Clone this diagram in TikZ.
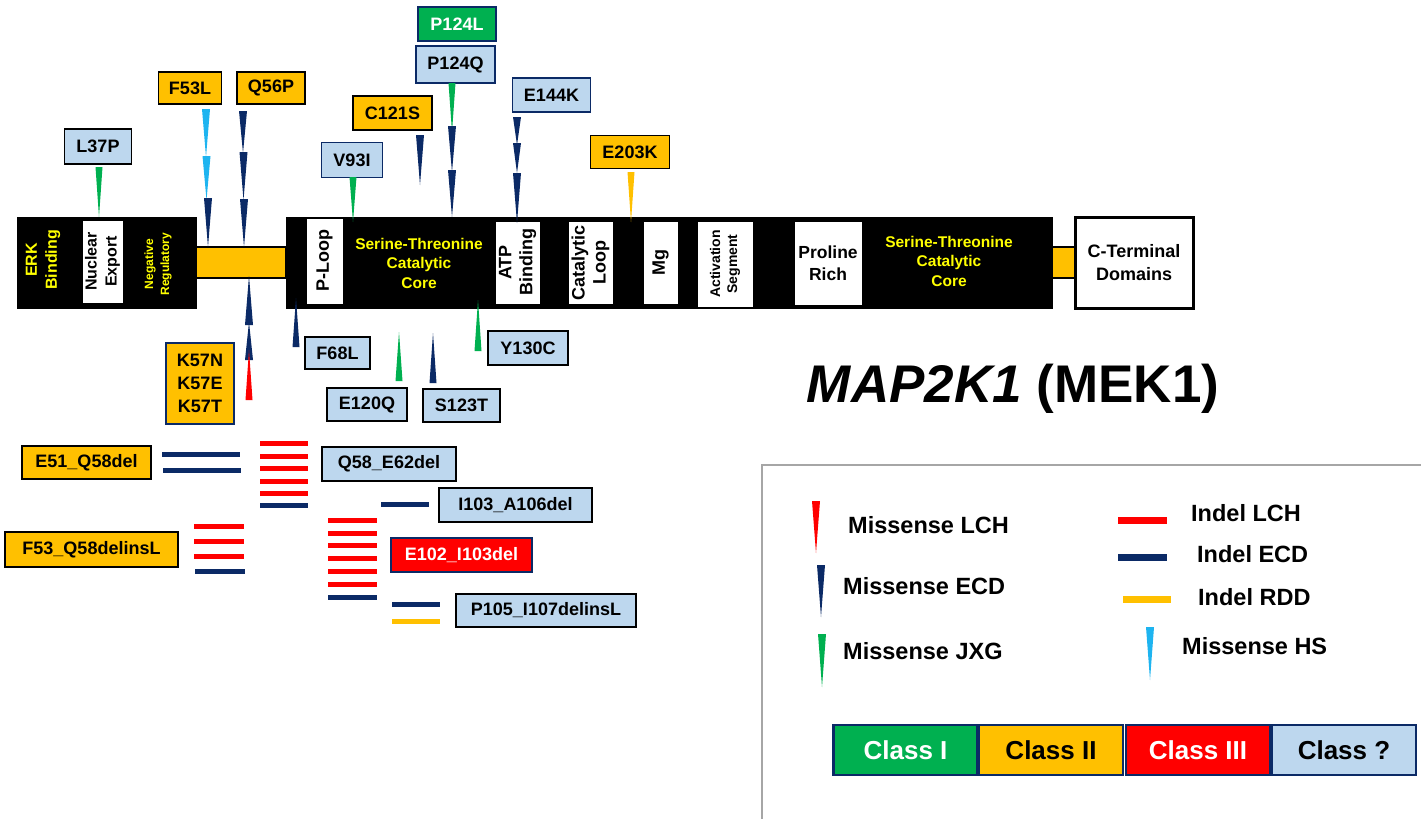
\documentclass[tikz,border=0pt]{standalone}
\usepackage{fontspec}
\setmainfont{Liberation Sans}
\definecolor{org}{HTML}{FFC000}
\definecolor{lb}{HTML}{BDD7EE}
\definecolor{grn}{HTML}{00B050}
\definecolor{rd}{HTML}{FF0000}
\definecolor{nv}{HTML}{0B2A66}
\definecolor{sky}{HTML}{1EB4F0}
\definecolor{yel}{HTML}{FFFF00}
\definecolor{lgray}{HTML}{A6A6A6}
% down spike: color, x, ytop(base), ybottom(tip), width
\newcommand{\spd}[5]{\fill[#1] ({#2-#5/2},#3) -- ({#2+#5/2},#3) -- (#2,#4) -- cycle;}
% up spike: color, x, ytip, ybase, width
\newcommand{\spu}[5]{\fill[#1] ({#2-#5/2},#4) -- ({#2+#5/2},#4) -- (#2,#3) -- cycle;}
\begin{document}
\begin{tikzpicture}[x=1pt,y=-1pt,
  lab/.style={draw=black, line width=1.4pt, inner sep=0pt, align=center,
    font=\bfseries\fontsize{18}{23}\selectfont},
  obox/.style={lab, fill=org},
  bbox/.style={lab, fill=lb},
  wbox/.style={draw=black, line width=0.8pt, fill=white, inner sep=0pt, align=center,
    font=\bfseries\fontsize{18}{21}\selectfont},
  blk/.style={fill=black, draw=black, inner sep=0pt},
  connbar/.style={fill=org, draw=black, line width=2pt, inner sep=0pt},
  ytxt/.style={text=yel, inner sep=0pt, align=center, font=\bfseries\fontsize{15.5}{19.5}\selectfont},
  ind/.style={line width=5pt},
  legtxt/.style={anchor=west, inner sep=0pt, font=\bfseries\fontsize{23.5}{28}\selectfont},
  legline/.style={line width=7pt},
  cls/.style={draw=nv, line width=2.5pt, inner sep=0pt, minimum width=144, minimum height=50,
    font=\bfseries\fontsize{26}{30}\selectfont}
]
\useasboundingbox (0,0) rectangle (1421,819);
\fill[white] (0,0) rectangle (1421,819);

% ---- protein bar ----
\node[connbar, minimum width=90, minimum height=31] (c1) at (241,262.5) {};
\node[connbar, minimum width=26, minimum height=31] (c2) at (1063,262.5) {};
\node[blk, minimum width=179, minimum height=91] (b1) at (106.5,262.5) {};
\node[blk, minimum width=766, minimum height=91] (b2) at (669,262.5) {};

\node[ytxt, rotate=90, font=\bfseries\fontsize{16}{20}\selectfont] (erk) at (43,260) {ERK\\Binding};
\node[wbox, rotate=90, minimum width=83, minimum height=41, font=\bfseries\fontsize{16}{20}\selectfont] (ne) at (102.5,261.5) {Nuclear\\Export};
\node[ytxt, rotate=90, font=\bfseries\fontsize{12}{16}\selectfont] (neg) at (158,264) {Negative\\Regulatory};

\node[wbox, rotate=90, minimum width=86, minimum height=37] (ploop) at (324.5,261) {P-Loop};
\node[ytxt] (stc1) at (419,263) {Serine-Threonine\\Catalytic\\Core};
\node[wbox, rotate=90, minimum width=83, minimum height=45] (atp) at (517.5,262.5) {ATP\\Binding};
\node[wbox, rotate=90, minimum width=83, minimum height=45] (cat) at (590.5,262.5) {Catalytic\\Loop};
\node[wbox, rotate=90, minimum width=83, minimum height=35] (mg) at (660.5,262.5) {Mg};
\node[wbox, rotate=90, minimum width=86, minimum height=56, font=\bfseries\fontsize{14}{17}\selectfont] (act) at (725,264) {Activation\\Segment};
\node[wbox, minimum width=68, minimum height=84, font=\bfseries\fontsize{17.5}{22}\selectfont] (pro) at (828,263) {Proline\\Rich};
\node[ytxt] (stc2) at (949,261) {Serine-Threonine\\Catalytic\\Core};
\node[draw=black, line width=3pt, fill=white, inner sep=0pt, minimum width=118, minimum height=91,
  align=center, font=\bfseries\fontsize{18}{23}\selectfont] (cterm) at (1134,262.5) {C-Terminal\\Domains};

% ---- top labels ----
\node[bbox, minimum width=67, minimum height=35] (l37p) at (98,146.5) {L37P};
\node[obox, minimum width=63, minimum height=32] (f53l) at (190,88) {F53L};
\node[obox, minimum width=68, minimum height=32] (q56p) at (271,88) {Q56P};
\node[obox, minimum width=79, minimum height=34] (c121s) at (392.5,113) {C121S};
\node[bbox, draw=nv, minimum width=61, minimum height=35] (v93i) at (352,160) {V93I};
\node[lab, fill=grn, draw=nv, text=white, minimum width=78, minimum height=34] (p124l) at (457,24) {P124L};
\node[bbox, draw=nv, minimum width=79, minimum height=37] (p124q) at (455.5,64.5) {P124Q};
\node[bbox, draw=nv, minimum width=78, minimum height=34] (e144k) at (551.5,95) {E144K};
\node[obox, minimum width=79, minimum height=33] (e203k) at (630,152) {E203K};

% ---- top spikes ----
\spd{grn}{99}{167}{217}{7}
\spd{sky}{206}{109}{157}{8}
\spd{sky}{206.5}{156}{200}{8}
\spd{nv}{208}{198}{247}{8}
\spd{nv}{243}{111}{153}{8}
\spd{nv}{243.5}{152}{200}{8}
\spd{nv}{244}{199}{247}{8}
\spd{grn}{353}{177}{222}{7}
\spd{nv}{420}{135}{185}{8}
\spd{grn}{452}{83}{132}{7}
\spd{nv}{452}{126}{172}{8}
\spd{nv}{452}{170}{217}{8}
\spd{nv}{517}{117}{145}{8}
\spd{nv}{517}{143}{173}{8}
\spd{nv}{517}{173}{223}{8}
\spd{org}{631}{172}{222}{7}

% ---- bottom spikes ----
\spu{nv}{249}{276}{325}{8}
\spu{nv}{249}{322}{360}{8}
\spu{rd}{249}{350}{400}{7}
\spu{nv}{296}{298}{347}{7}
\spu{grn}{399}{332}{381}{7}
\spu{nv}{433}{333}{383}{7}
\spu{grn}{478}{300}{351}{7}

% ---- bottom labels ----
\node[obox, draw=nv, minimum width=68, minimum height=81] (k57) at (200,383.5) {K57N\\K57E\\K57T};
\node[bbox, minimum width=65, minimum height=32] (f68l) at (337.5,353) {F68L};
\node[bbox, minimum width=80, minimum height=34] (y130c) at (528,348) {Y130C};
\node[bbox, minimum width=80, minimum height=33] (e120q) at (367,404.5) {E120Q};
\node[bbox, minimum width=77, minimum height=33] (s123t) at (461.5,405.5) {S123T};
\node[bbox, minimum width=134, minimum height=34] (q58e62) at (389,464) {Q58\_E62del};
\node[bbox, minimum width=153, minimum height=34] (i103a106) at (515.5,505) {I103\_A106del};
\node[lab, fill=rd, draw=nv, text=white, minimum width=141, minimum height=34] (e102i103) at (461.5,555) {E102\_I103del};
\node[bbox, minimum width=180, minimum height=33] (p105i107) at (546,610.5) {P105\_I107delinsL};
\node[obox, minimum width=129, minimum height=33] (e51q58) at (86.5,462.5) {E51\_Q58del};
\node[obox, minimum width=173, minimum height=35] (f53q58) at (91.5,549.5) {F53\_Q58delinsL};

% ---- indel lines ----
\draw[ind, nv] (162,454) -- (240,454);
\draw[ind, nv] (163,470) -- (241,470);
\foreach \yy in {443,456,468,481,493} \draw[ind, rd] (260,\yy) -- (308,\yy);
\draw[ind, nv] (260,505) -- (308,505);
\foreach \yy in {526,541,556} \draw[ind, rd] (194,\yy) -- (244,\yy);
\draw[ind, nv] (195,571) -- (245,571);
\draw[ind, nv] (381,504) -- (429,504);
\foreach \yy in {520,533,545,558,571,584} \draw[ind, rd] (328,\yy) -- (377,\yy);
\draw[ind, nv] (328,597) -- (377,597);
\draw[ind, nv] (392,604) -- (440,604);
\draw[ind, org] (392,621) -- (440,621);

% ---- title ----
\node[inner sep=0pt, font=\bfseries\fontsize{53}{60}\selectfont] (title) at (1013,389) {\textit{MAP2K1} (MEK1)};

% ---- legend ----
\draw[lgray, line width=2pt] (1421,465) -- (762,465) -- (762,819);
\spd{rd}{816}{501}{553}{8}
\spd{nv}{821}{565}{617}{8}
\spd{grn}{822}{634}{687}{8}
\spd{sky}{1150}{627}{680}{8}
\node[legtxt] (lmlch) at (848,525) {Missense LCH};
\node[legtxt] (lmecd) at (843,586) {Missense ECD};
\node[legtxt] (lmjxg) at (843,651) {Missense JXG};
\node[legtxt] (lilch) at (1191,513) {Indel LCH};
\node[legtxt] (liecd) at (1197,554) {Indel ECD};
\node[legtxt] (lirdd) at (1198,597) {Indel RDD};
\node[legtxt] (lmhs) at (1182,646) {Missense HS};
\draw[legline, rd] (1118,520) -- (1167,520);
\draw[legline, nv] (1118,557) -- (1167,557);
\draw[legline, org] (1123,599) -- (1171,599);

\node[cls, fill=grn, text=white] (cl1) at (905.5,750) {Class I};
\node[cls, fill=org] (cl2) at (1051,750) {Class II};
\node[cls, fill=rd, text=white] (cl3) at (1198,750) {Class III};
\node[cls, fill=lb] (cl4) at (1344,750) {Class ?};
\end{tikzpicture}
\end{document}
